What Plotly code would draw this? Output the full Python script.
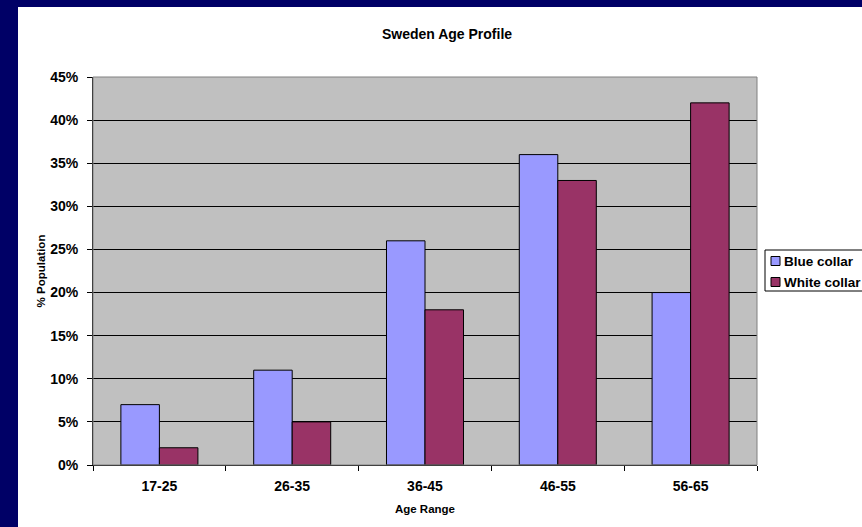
import plotly.graph_objects as go

categories = ["17-25", "26-35", "36-45", "46-55", "56-65"]
blue_collar = [7, 11, 26, 36, 20]
white_collar = [2, 5, 18, 33, 42]
series_names = ["Blue collar", "White collar"]
colors = ["#9999FF", "#993366"]

W, H = 862, 527
L, R, T, B = 93, 105, 77, 62
pw = W - L - R
ph = H - T - B

def px_x(p):
    return (p - L) / pw

def px_y(p):
    return (H - B - p) / ph

font_family = "Arial, Liberation Sans, sans-serif"

fig = go.Figure()
for name, vals, col in zip(series_names, [blue_collar, white_collar], colors):
    fig.add_trace(go.Bar(
        x=categories, y=vals, name=name,
        marker=dict(color=col, line=dict(color="#000000", width=1)),
        showlegend=False,
    ))

shapes = [
    # navy frame strips
    dict(type="rect", xref="paper", yref="paper", x0=px_x(0), x1=px_x(18), y0=px_y(H), y1=px_y(0),
         fillcolor="#000066", line=dict(width=0), layer="below"),
    dict(type="rect", xref="paper", yref="paper", x0=px_x(0), x1=px_x(W), y0=px_y(7), y1=px_y(0),
         fillcolor="#000066", line=dict(width=0), layer="below"),
    # plot border
    dict(type="rect", xref="paper", yref="paper", x0=0, x1=1, y0=0, y1=1,
         line=dict(color="#808080", width=1), layer="above"),
    # legend box
    dict(type="rect", xref="paper", yref="paper", x0=px_x(765), x1=px_x(868), y0=px_y(291), y1=px_y(250),
         fillcolor="#FFFFFF", line=dict(color="#000000", width=1), layer="above"),
]
annotations = []
for i, (name, col) in enumerate(zip(series_names, colors)):
    cy = 261 + 21 * i
    shapes.append(dict(type="rect", xref="paper", yref="paper",
                       x0=px_x(771), x1=px_x(780), y0=px_y(cy + 4.5), y1=px_y(cy - 4.5),
                       fillcolor=col, line=dict(color="#000000", width=1), layer="above"))
    annotations.append(dict(xref="paper", yref="paper", x=px_x(782), y=px_y(cy),
                            xanchor="left", yanchor="middle", showarrow=False,
                            text="<b>%s</b>" % name,
                            font=dict(family=font_family, size=13.5, color="#000000")))

fig.update_layout(
    width=W, height=H,
    margin=dict(l=L, r=R, t=T, b=B, pad=0),
    paper_bgcolor="#FFFFFF",
    plot_bgcolor="#C0C0C0",
    barmode="group",
    bargap=0.42,
    bargroupgap=0,
    font=dict(family=font_family, color="#000000"),
    title=dict(text="<b>Sweden Age Profile</b>", x=447 / W, xanchor="center",
               y=1 - 34 / H, yanchor="middle",
               font=dict(family=font_family, size=14, color="#000000")),
    xaxis=dict(
        tickson="boundaries", ticks="outside", ticklen=5, tickcolor="#000000",
        showline=True, linecolor="#000000", linewidth=1,
        showgrid=False,
        tickfont=dict(family=font_family, size=14, color="#000000"),
        ticklabelstandoff=8,
        tickprefix="<b>", ticksuffix="</b>",
        title=dict(text="<b>Age Range</b>", standoff=12,
                   font=dict(family=font_family, size=11.5, color="#000000")),
    ),
    yaxis=dict(
        range=[0, 45], dtick=5, tick0=0,
        ticks="outside", ticklen=5, tickcolor="#000000",
        showline=True, linecolor="#000000", linewidth=1,
        showgrid=True, gridcolor="#000000", gridwidth=1,
        zeroline=False,
        ticksuffix="%</b>", tickprefix="<b>",
        tickfont=dict(family=font_family, size=14, color="#000000"),
        ticklabelstandoff=6,
        title=dict(text="<b>% Population</b>", standoff=2,
                   font=dict(family=font_family, size=11.5, color="#000000")),
    ),
    shapes=shapes,
    annotations=annotations,
)

fig.write_html("out.html", config={"displayModeBar": False},
               post_script="document.body.style.margin='0';document.body.style.padding='0';")
